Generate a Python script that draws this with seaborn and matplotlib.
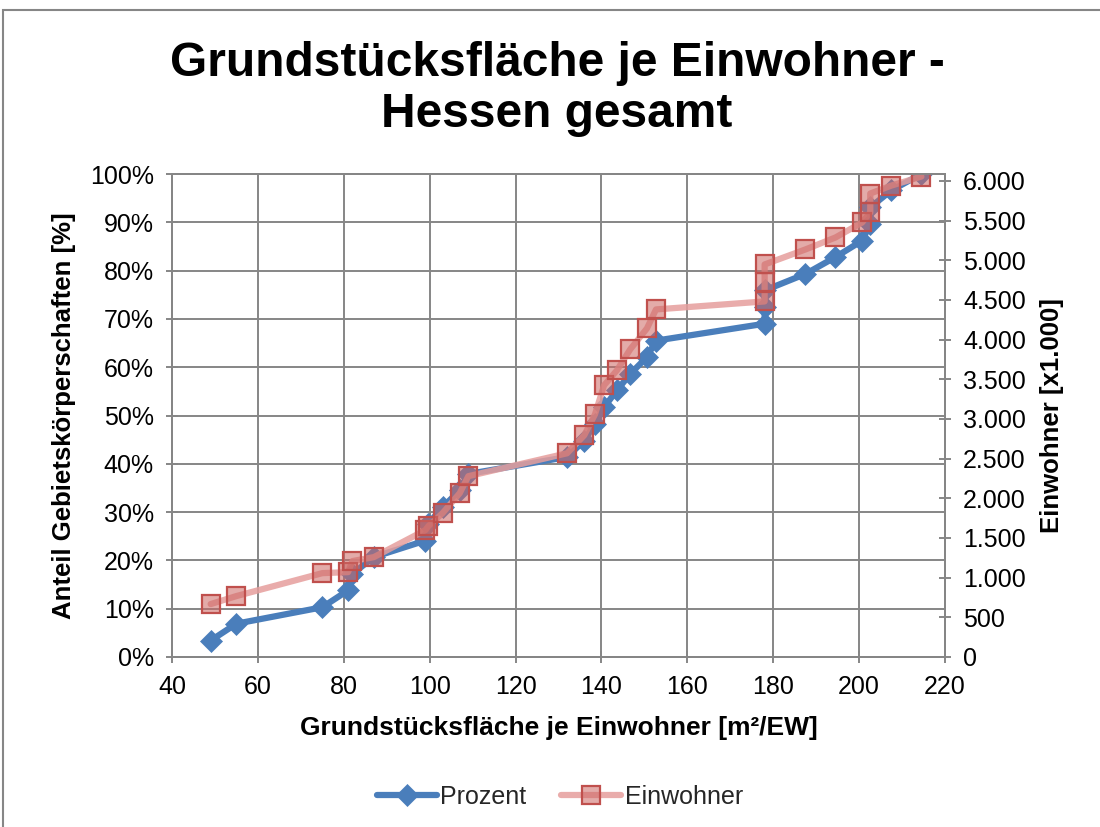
import matplotlib
matplotlib.use("Agg")
import matplotlib.pyplot as plt
import seaborn as sns
import pandas as pd
from matplotlib.ticker import FixedLocator, FixedFormatter
from matplotlib.patches import Rectangle

# ---------------- data ----------------
title = "Grundstücksfläche je Einwohner -\nHessen gesamt"
x_label = "Grundstücksfläche je Einwohner [m²/EW]"
y_left_label = "Anteil Gebietskörperschaften [%]"
y_right_label = "Einwohner [x1.000]"
series_names = ["Prozent", "Einwohner"]

flaeche = [49, 55, 75, 81, 82, 87, 99, 99.7, 103, 107, 109, 132, 136, 138.5,
           140.6, 143.6, 146.7, 150.6, 152.7, 178, 178, 178, 187.5, 194.5,
           200.7, 202.6, 202.6, 207.5, 214.5]
prozent = [3.4, 6.9, 10.3, 13.8, 17.2, 20.7, 24.1, 27.6, 31.0, 34.5, 37.9,
           41.4, 44.8, 48.3, 51.7, 55.2, 58.6, 62.1, 65.5, 69.0, 72.4, 75.9,
           79.3, 82.8, 86.2, 89.7, 93.1, 96.6, 100.0]
einwohner = [667, 768, 1057, 1070, 1209, 1259, 1599, 1650, 1813, 2065, 2279,
             2568, 2795, 3059, 3424, 3613, 3878, 4142, 4381, 4482, 4721, 4948,
             5137, 5288, 5477, 5603, 5842, 5942, 6056]

x_ticks = [40, 60, 80, 100, 120, 140, 160, 180, 200, 220]
x_tick_labels = ["40", "60", "80", "100", "120", "140", "160", "180", "200", "220"]
left_ticks = [0, 10, 20, 30, 40, 50, 60, 70, 80, 90, 100]
left_tick_labels = ["0%", "10%", "20%", "30%", "40%", "50%", "60%", "70%",
                    "80%", "90%", "100%"]
right_ticks = [0, 500, 1000, 1500, 2000, 2500, 3000, 3500, 4000, 4500, 5000,
               5500, 6000]
right_tick_labels = ["0", "500", "1.000", "1.500", "2.000", "2.500", "3.000",
                     "3.500", "4.000", "4.500", "5.000", "5.500", "6.000"]

# ---------------- style ----------------
sns.set_theme(style="white")
plt.rcParams["font.family"] = ["Liberation Sans", "DejaVu Sans"]

BLUE = "#4A7EBB"
RED_EDGE = "#C0504D"
RED_LINE = (0.90, 0.62, 0.61, 0.85)
RED_FACE = (0.80, 0.40, 0.39, 0.55)
GRID = "#868686"

df = pd.DataFrame({"flaeche": flaeche, "prozent": prozent, "einwohner": einwohner})

fig = plt.figure(figsize=(11, 8.27), dpi=100)
ax = fig.add_axes([172 / 1100, 1 - 657 / 827, (945 - 172) / 1100, (657 - 174) / 827])
ax2 = ax.twinx()

sns.lineplot(data=df, x="flaeche", y="prozent", ax=ax, sort=False, estimator=None,
             color=BLUE, linewidth=4.5, marker="D", markersize=11,
             markeredgecolor=BLUE, markeredgewidth=0.5, label=series_names[0],
             legend=False)
sns.lineplot(data=df, x="flaeche", y="einwohner", ax=ax2, sort=False, estimator=None,
             color=RED_EDGE, linewidth=4.5, marker="s", markersize=13,
             markeredgecolor=RED_EDGE, markeredgewidth=1.6, label=series_names[1],
             legend=False)
l2 = ax2.lines[0]
l2.set_color(RED_LINE)
l2.set_markerfacecolor(RED_FACE)
l2.set_markeredgecolor(RED_EDGE)

# axes limits and ticks
ax.set_xlim(40, 220)
ax.set_ylim(0, 100)
ax2.set_ylim(0, 6088)
ax.xaxis.set_major_locator(FixedLocator(x_ticks))
ax.xaxis.set_major_formatter(FixedFormatter(x_tick_labels))
ax.yaxis.set_major_locator(FixedLocator(left_ticks))
ax.yaxis.set_major_formatter(FixedFormatter(left_tick_labels))
ax2.yaxis.set_major_locator(FixedLocator(right_ticks))
ax2.yaxis.set_major_formatter(FixedFormatter(right_tick_labels))

ax.grid(True, color=GRID, linewidth=1.4)
ax.set_axisbelow(True)
ax2.grid(False)

for a in (ax, ax2):
    for s in a.spines.values():
        s.set_color(GRID)
        s.set_linewidth(1.4)

ax.tick_params(axis="x", bottom=True, direction="inout", length=8, width=1.4,
               color=GRID, labelsize=18, pad=9, labelcolor="black")
ax.tick_params(axis="y", left=True, direction="inout", length=8, width=1.4,
               color=GRID, labelsize=18, pad=9, labelcolor="black")
ax2.tick_params(axis="y", right=True, direction="inout", length=8, width=1.4,
                color=GRID, labelsize=18, pad=9, labelcolor="black")

ax.set_xlabel(x_label, fontsize=19, fontweight="bold", labelpad=12, color="black")
ax.set_ylabel(y_left_label, fontsize=18.5, fontweight="bold", labelpad=10, color="black")
ax2.set_ylabel(y_right_label, fontsize=18.5, fontweight="bold", labelpad=10,
               rotation=90, color="black")

fig.text(557 / 1100, 1 - 89 / 827, title, ha="center", va="center", fontsize=34.5,
         fontweight="bold", linespacing=1.18, color="black")

handles = [ax.lines[0], ax2.lines[0]]
fig.legend(handles, series_names, loc="center", bbox_to_anchor=(560 / 1100, 1 - 797 / 827),
           ncol=2, frameon=False, fontsize=18, handlelength=2.4, handletextpad=0.15,
           columnspacing=1.4, numpoints=1)

fig.add_artist(Rectangle((3 / 1100, -0.05), 1.2, 1 - 10 / 827 + 0.05,
                         transform=fig.transFigure, fill=False, edgecolor=GRID,
                         linewidth=1.5))

fig.savefig("out.png", dpi=100, facecolor="white")
